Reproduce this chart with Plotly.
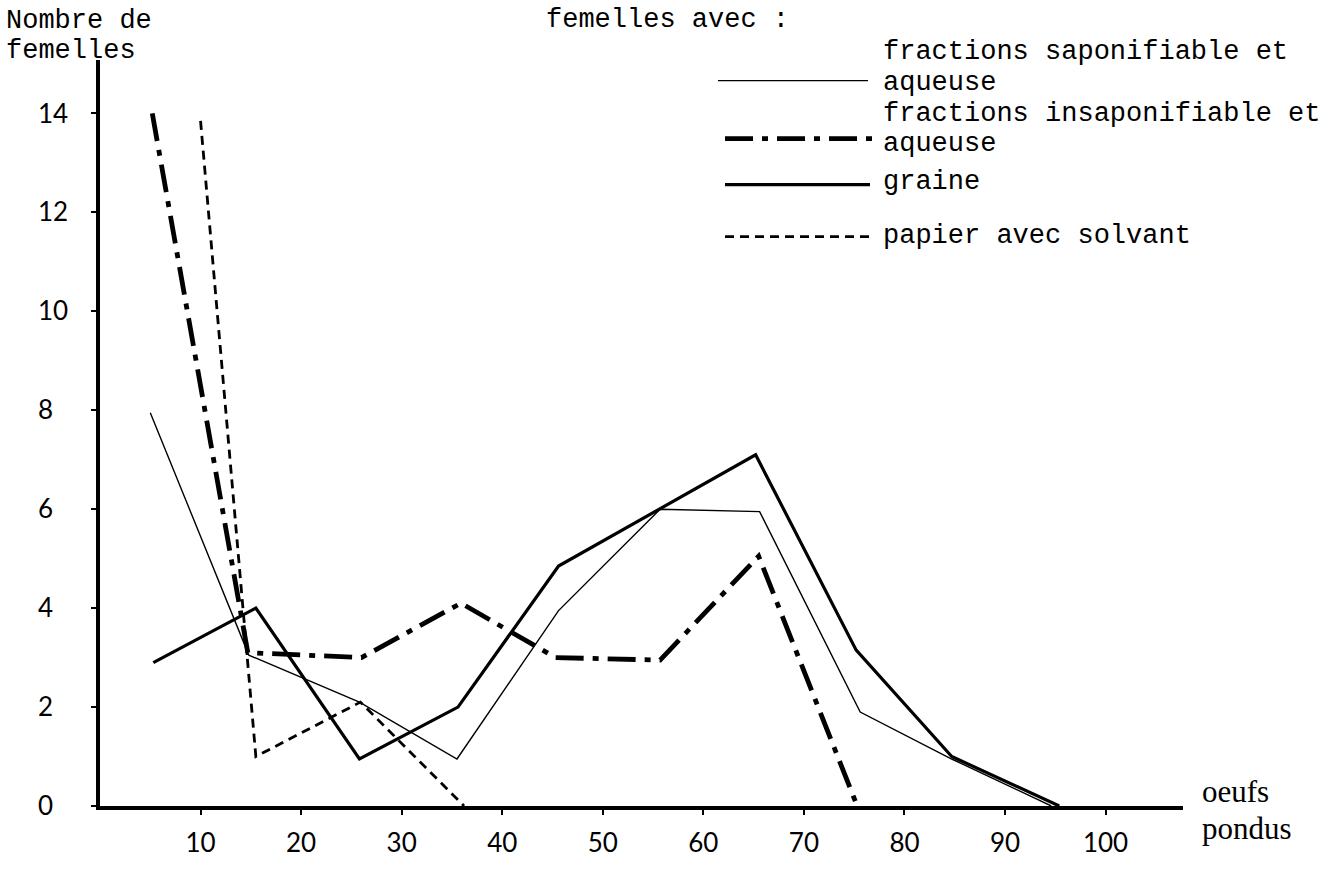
import plotly.graph_objects as go

# ---- data ----
sapon_x = [5.0, 14.8, 25.8, 35.5, 45.6, 55.7, 65.6, 75.6, 84.7, 94.6]
sapon_y = [7.95, 3.05, 2.1, 0.95, 3.95, 6.0, 5.95, 1.9, 0.95, 0.0]

insapon_x = [5.2, 14.7, 26.0, 35.9, 45.3, 55.7, 65.5, 75.3]
insapon_y = [14.0, 3.1, 3.0, 4.1, 3.0, 2.95, 5.05, 0.0]

graine_x = [5.3, 15.5, 25.8, 35.6, 45.6, 55.7, 65.2, 75.2, 84.7, 95.4]
graine_y = [2.9, 4.0, 0.95, 2.0, 4.85, 6.0, 7.1, 3.15, 1.0, 0.0]

papier_x = [10.0, 15.5, 25.9, 36.2]
papier_y = [13.85, 1.0, 2.1, 0.0]

x_ticks = [10, 20, 30, 40, 50, 60, 70, 80, 90, 100]
y_ticks = [0, 2, 4, 6, 8, 10, 12, 14]

legend_labels = [
    "fractions saponifiable et",
    "aqueuse",
    "fractions insaponifiable et",
    "aqueuse",
    "graine",
    "papier avec solvant",
]

# ---- layout geometry (pixels) ----
W, H = 1337, 870
L, R, T, B = 100, 154, 60, 50
PW, PH = W - L - R, H - T - B

def px(xp):
    return (xp - L) / PW

def py(yp):
    return (H - B - yp) / PH

MONO = "Liberation Mono"
fig = go.Figure()

fig.add_trace(go.Scatter(x=sapon_x, y=sapon_y, mode="lines",
                         line=dict(color="black", width=1.4), name="sapon"))
fig.add_trace(go.Scatter(x=graine_x, y=graine_y, mode="lines",
                         line=dict(color="black", width=3.2), name="graine"))
fig.add_trace(go.Scatter(x=insapon_x, y=insapon_y, mode="lines",
                         line=dict(color="black", width=4.8,
                                   dash="28px,9px,6px,9px"), name="insapon"))
fig.add_trace(go.Scatter(x=papier_x, y=papier_y, mode="lines",
                         line=dict(color="black", width=2.8, dash="9px,6px"),
                         name="papier"))

shapes = []
def seg(x0, x1, y, width, dash="solid"):
    shapes.append(dict(type="line", xref="paper", yref="paper",
                       x0=px(x0), x1=px(x1), y0=py(y), y1=py(y),
                       line=dict(color="black", width=width, dash=dash)))

seg(718, 868, 81, 1.4)
seg(725, 876, 140, 4.8, "28px,9px,6px,9px")
seg(725, 870, 187, 3.2)
seg(725, 870, 240, 2.8, "9px,6px")

ann = []
def text(s, x, y, size=27, family=MONO):
    ann.append(dict(text=s, xref="paper", yref="paper", x=px(x), y=py(y),
                    xanchor="left", yanchor="middle", showarrow=False,
                    font=dict(family=family, size=size, color="black")))

text("Nombre de", 4, 20)
text("femelles", 4, 51)
text("femelles avec :", 544, 19)
legend_y = [52, 83, 115, 146, 184, 239]
for lab, yy in zip(legend_labels, legend_y):
    text(lab, 881, yy)
text("oeufs", 1200, 805, size=31, family="Liberation Serif")
text("pondus", 1200, 843, size=31, family="Liberation Serif")

y_text = [str(v) if v >= 10 else str(v) + "\u2007" for v in y_ticks]

fig.update_layout(
    width=W, height=H,
    margin=dict(l=L, r=R, t=T, b=B),
    plot_bgcolor="white", paper_bgcolor="white",
    showlegend=False,
    shapes=shapes, annotations=ann,
    font=dict(family="Lato", size=26, color="black"),
)
fig.update_xaxes(range=[0, 107.7], tickvals=x_ticks, ticktext=[str(v) for v in x_ticks],
                 showline=True, linewidth=3.5, linecolor="black",
                 ticks="outside", ticklen=5, tickwidth=2, tickcolor="black",
                 showgrid=False, zeroline=False, ticklabelstandoff=6)
fig.update_yaxes(range=[0, 15.08], tickvals=y_ticks, ticktext=y_text,
                 showline=True, linewidth=3.5, linecolor="black",
                 ticks="outside", ticklen=5, tickwidth=2, tickcolor="black",
                 showgrid=False, zeroline=False, ticklabelstandoff=18)

fig.write_html("out.html", config={"displayModeBar": False},
               post_script="document.body.style.margin='0';document.body.style.overflow='hidden';")
